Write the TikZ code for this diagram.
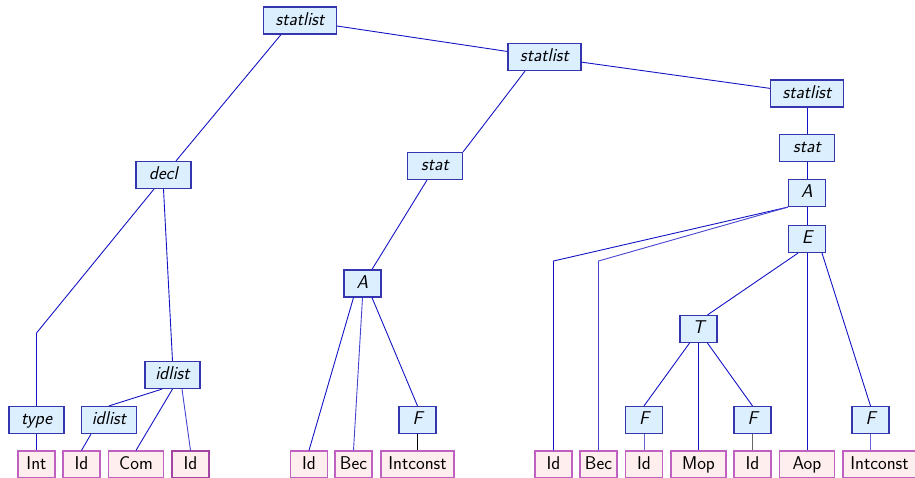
\documentclass[tikz,border=0pt]{standalone}
\usepackage{fontspec}
\usetikzlibrary{calc}
\definecolor{ntfill}{HTML}{DCEFFF}
\definecolor{ntdraw}{HTML}{3535B0}
\definecolor{tmfill}{HTML}{FFEEEE}
\definecolor{tmdraw}{HTML}{C060C0}
\definecolor{edge}{HTML}{1414C4}
\definecolor{softedge}{HTML}{6464D8}
\tikzset{
  box/.style={rectangle, line width=1.2pt, minimum height=27pt, inner sep=0pt,
    text height=13pt, text depth=4pt,
    font=\sffamily\fontsize{18.5}{20}\selectfont},
  nt/.style={box, draw=ntdraw, fill=ntfill, font=\sffamily\itshape\fontsize{18.5}{20}\selectfont},
  tm/.style={box, draw=tmdraw, fill=tmfill},
  wa/.style={minimum width=37pt},
  wb/.style={minimum width=55pt},
  wc/.style={minimum width=73pt},
  link/.style={draw=edge, line width=0.9pt},
}
\begin{document}
\begin{tikzpicture}[x=1pt, y=-1pt]
\useasboundingbox (0,0) rectangle (915,477);
\clip (0,0) rectangle (915,477);

% nonterminals
\node[nt,wc] (s1) at (300,20.5) {statlist};
\node[nt,wc] (s2) at (544.5,57) {statlist};
\node[nt,wc] (s3) at (807,93.5) {statlist};
\node[nt,wb] (decl) at (163.5,175) {decl};
\node[nt,wb] (stm) at (435,166) {stat};
\node[nt,wb] (str) at (807,148) {stat};
\node[nt,wa] (Ar) at (807,193) {A};
\node[nt,wa] (E) at (807,239) {E};
\node[nt,wa] (Am) at (362.5,283.5) {A};
\node[nt,wa] (T) at (698.5,329) {T};
\node[nt,wb] (il1) at (172.5,375) {idlist};
\node[nt,wb] (type) at (36.5,420) {type};
\node[nt,wb] (il2) at (109,420) {idlist};
\node[nt,wa] (Fm) at (417.5,420) {F};
\node[nt,wa] (F1) at (644,420) {F};
\node[nt,wa] (F2) at (752.5,420) {F};
\node[nt,wa] (F3) at (870.5,420) {F};

% terminals
\node[tm,wa] (Int) at (36.5,464.5) {Int};
\node[tm,wa] (Id1) at (81.5,464.5) {Id};
\node[tm,wb] (Com) at (136,464.5) {Com};
\node[tm,wa,draw=black!10!tmdraw!80!violet] (Id2) at (190.5,464.5) {Id};
\node[tm,wa] (Id3) at (309,464.5) {Id};
\node[tm,wa] (Bec) at (353.5,464.5) {Bec};
\node[tm,wc] (Ic1) at (417.5,464.5) {Intconst};
\node[tm,wa] (Id4) at (553.5,464.5) {Id};
\node[tm,wa] (Bec2) at (598.5,464.5) {Bec};
\node[tm,wa] (Id5) at (644,464.5) {Id};
\node[tm,wb] (Mop) at (698.5,464.5) {Mop};
\node[tm,wa] (Id6) at (752.5,464.5) {Id};
\node[tm,wb] (Aop) at (807,464.5) {Aop};
\node[tm,wc] (Ic2) at (879.5,464.5) {Intconst};

% bend levels
\coordinate (lvlA) at (0,261);
\coordinate (lvlT) at (0,333);

% spine
\path[link] (s1) -- (s2);
\path[link] (s2) -- (s3);
\path[link] ([xshift=-19pt]s1.south) -- ([xshift=12.5pt]decl.north);
\path[link] ([xshift=-19.5pt]s2.south) -- (stm.north east);
\path[link] (s3) -- (str);
\path[link] (str) -- (Ar);
\path[link] (Ar) -- (E);

% declaration subtree
\path[link] ([xshift=-9.5pt]decl.south) -- (type.north |- lvlT) -- (type.north);
\path[link] (decl.south) -- (il1.north);
\path[link] ([xshift=-10.5pt]il1.south) -- (il2.north);
\path[link] (il1.south) -- (Com.north);
\path[link,draw=softedge!60!edge] ([xshift=9.5pt]il1.south) -- (Id2.north);
\path[link] ([xshift=-18pt]il2.south) -- (Id1.north);
\path[link] (type) -- (Int);

% middle statement
\path[link] ([xshift=-8pt]stm.south) -- ([xshift=9.5pt]Am.north);
\path[link] ([xshift=-9pt]Am.south) -- (Id3.north);
\path[link,draw=softedge!60!edge] (Am.south) -- (Bec.north);
\path[link] ([xshift=9.5pt]Am.south) -- (Fm.north);
\path[link,draw=black] (Fm) -- (Ic1);

% right statement
\path[link] (Ar.south west) -- (Id4.north |- lvlA) -- (Id4.north);
\path[link,draw=softedge!60!edge] (Ar.south west) -- (Bec2.north |- lvlA) -- (Bec2.north);
\path[link] ([xshift=-9pt]E.south) -- ([xshift=9pt]T.north);
\path[link] (E) -- (Aop);
\path[link] ([xshift=15pt]E.south) -- (F3.north);
\path[link] ([xshift=-9pt]T.south) -- (F1.north);
\path[link] (T) -- (Mop);
\path[link] ([xshift=9pt]T.south) -- (F2.north);
\path[link,draw=softedge] (F1) -- (Id5);
\path[link,draw=black!60] (F2) -- (Id6);
\path[link,draw=softedge] (F3.south) -- (F3.south |- Ic2.north);
\end{tikzpicture}
\end{document}
